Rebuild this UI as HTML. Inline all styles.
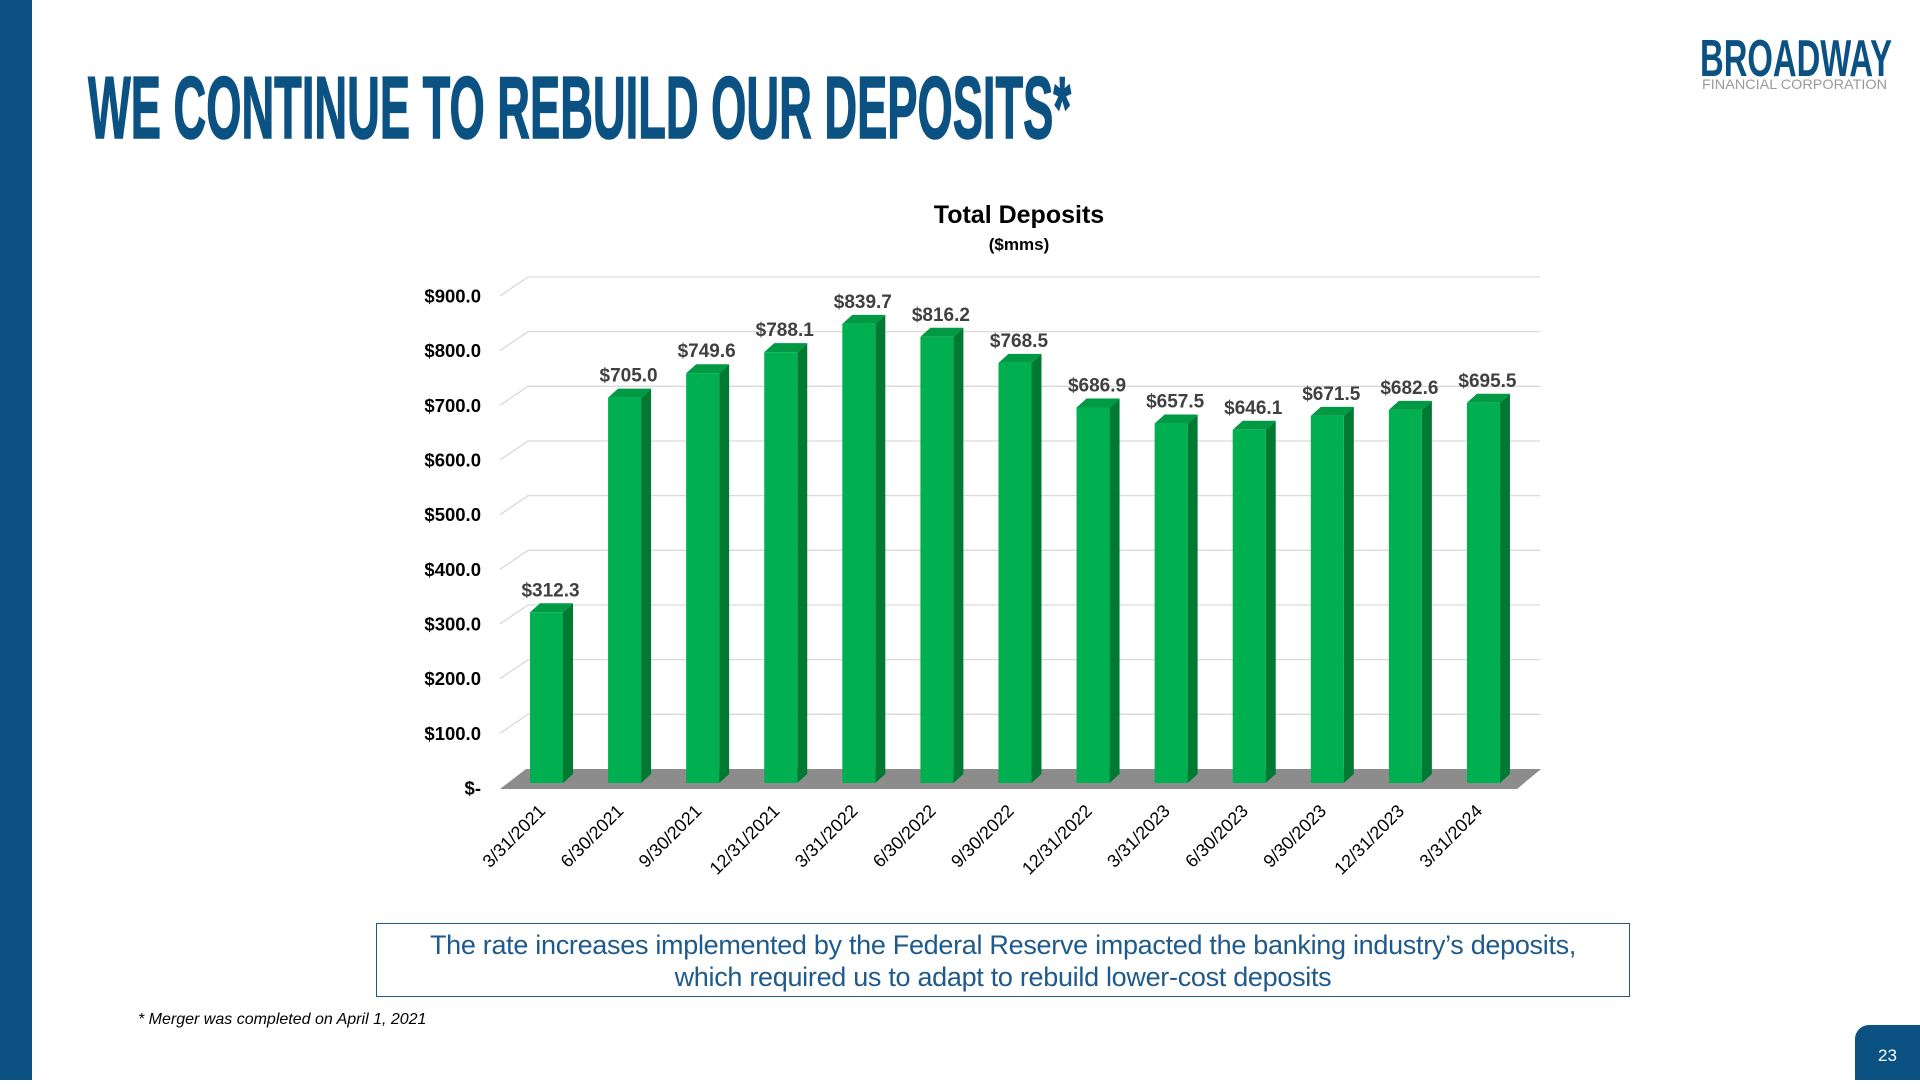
<!DOCTYPE html>
<html><head><meta charset="utf-8"><style>
html,body{margin:0;padding:0}
body{width:1920px;height:1080px;position:relative;background:#fff;overflow:hidden;font-family:"Liberation Sans",sans-serif}
</style></head><body>
<div style="position:absolute;left:0;top:0;width:32px;height:1080px;background:#0b5283"></div>
<svg style="position:absolute;left:0;top:0" width="1200" height="160">
<text x="88" y="138" textLength="983" lengthAdjust="spacingAndGlyphs" font-family="'Liberation Sans Narrow','Liberation Sans',sans-serif" font-weight="bold" font-size="88" fill="#0b5283" stroke="#0b5283" stroke-width="1.5">WE CONTINUE TO REBUILD OUR DEPOSITS*</text>
</svg>
<svg style="position:absolute;top:0;left:1690px" width="220" height="100">
<text x="10" y="76" textLength="192" lengthAdjust="spacingAndGlyphs" font-family="'Liberation Sans Narrow','Liberation Sans',sans-serif" font-weight="bold" font-size="52" fill="#0b5283">BROADWAY</text>
<text x="12" y="89" textLength="185" lengthAdjust="spacingAndGlyphs" font-family="'Liberation Sans',sans-serif" font-size="14" fill="#9a9a9a">FINANCIAL CORPORATION</text>
</svg>
<svg id="chart" style="position:absolute;left:0;top:0" width="1920" height="900"></svg>
<div style="position:absolute;left:376px;top:923px;width:1254px;height:74px;border:1px solid #1f5a8c;color:#1f5a8c;font-size:27px;letter-spacing:-0.3px;line-height:32px;text-align:center;padding-top:5px;box-sizing:border-box;white-space:nowrap">The rate increases implemented by the Federal Reserve impacted the banking industry’s deposits,<br>which required us to adapt to rebuild lower-cost deposits</div>
<div style="position:absolute;left:138px;top:1011px;font-size:16px;font-style:italic;color:#000">* Merger was completed on April 1, 2021</div>
<div style="position:absolute;left:1855px;top:1025px;width:65px;height:55px;background:#0b5283;border-top-left-radius:14px;color:#fff;font-size:17px;text-align:center;line-height:62px">23</div>
<script>
const categories=["3/31/2021","6/30/2021","9/30/2021","12/31/2021","3/31/2022","6/30/2022","9/30/2022","12/31/2022","3/31/2023","6/30/2023","9/30/2023","12/31/2023","3/31/2024"];
const deposits=[312.3,705.0,749.6,788.1,839.7,816.2,768.5,686.9,657.5,646.1,671.5,682.6,695.5];
const valueLabels=["$312.3","$705.0","$749.6","$788.1","$839.7","$816.2","$768.5","$686.9","$657.5","$646.1","$671.5","$682.6","$695.5"];
const tickValues=[0,100,200,300,400,500,600,700,800,900];
const tickLabels=["$-","$100.0","$200.0","$300.0","$400.0","$500.0","$600.0","$700.0","$800.0","$900.0"];
const NS="http://www.w3.org/2000/svg";
const svg=document.getElementById('chart');
function mk(t,a,p){const e=document.createElementNS(NS,t);for(const k in a)e.setAttribute(k,a[k]);(p||svg).appendChild(e);return e;}
const backY=v=>769-v*0.5467;
const barY=v=>783-v*0.5467;
const barX=i=>530+i*78.08;
const bw=33,dx=10,dy=-9;
let t=mk('text',{x:1019,y:223,'text-anchor':'middle','font-size':25,'font-weight':'bold',fill:'#000'});t.textContent='Total Deposits';


t=mk('text',{x:1019,y:250,'text-anchor':'middle','font-size':17,'font-weight':'bold',fill:'#000'});t.textContent='($mms)';


tickValues.forEach((v,i)=>{
 const y=backY(v);
 if(v>0){const l=mk('polyline',{points:`500,${y+19} 528,${y} 1540,${y}`,fill:'none',stroke:'#d9d9d9','stroke-width':1.3});
 
 }
 const tx=mk('text',{x:481,y:y+19+6.5,'text-anchor':'end','font-size':18.5,'font-weight':'bold',fill:'#000'});tx.textContent=tickLabels[i];
 
 
});
const floor=mk('polygon',{points:`526,${backY(0)} 1541,${backY(0)} 1517,${backY(0)+20} 500,${backY(0)+20}`,fill:'#8c8c8c'});


deposits.forEach((v,i)=>{
 const x=barX(i),y=barY(v),b=barY(0);
 const g=mk('g',{});
 
 
 mk('polygon',{points:`${x+bw},${y} ${x+bw+dx},${y+dy} ${x+bw+dx},${b+dy} ${x+bw},${b}`,fill:'#007a33'},g);
 mk('polygon',{points:`${x},${y} ${x+dx},${y+dy} ${x+bw+dx},${y+dy} ${x+bw},${y}`,fill:'#009a44'},g);
 mk('rect',{x:x,y:y,width:bw,height:b-y,fill:'#00b050'},g);
 const lb=mk('text',{x:x+(bw+dx)/2-1,y:y-16,'text-anchor':'middle','font-size':19,'font-weight':'bold',fill:'#404040'});lb.textContent=valueLabels[i];
 
 
 const cx=x+bw/2;
 const xl=mk('text',{x:0,y:0,'text-anchor':'end','font-size':18,fill:'#000',transform:`translate(${cx},${812}) rotate(-45)`});xl.textContent=categories[i];
 
 
});
</script>
</body></html>
